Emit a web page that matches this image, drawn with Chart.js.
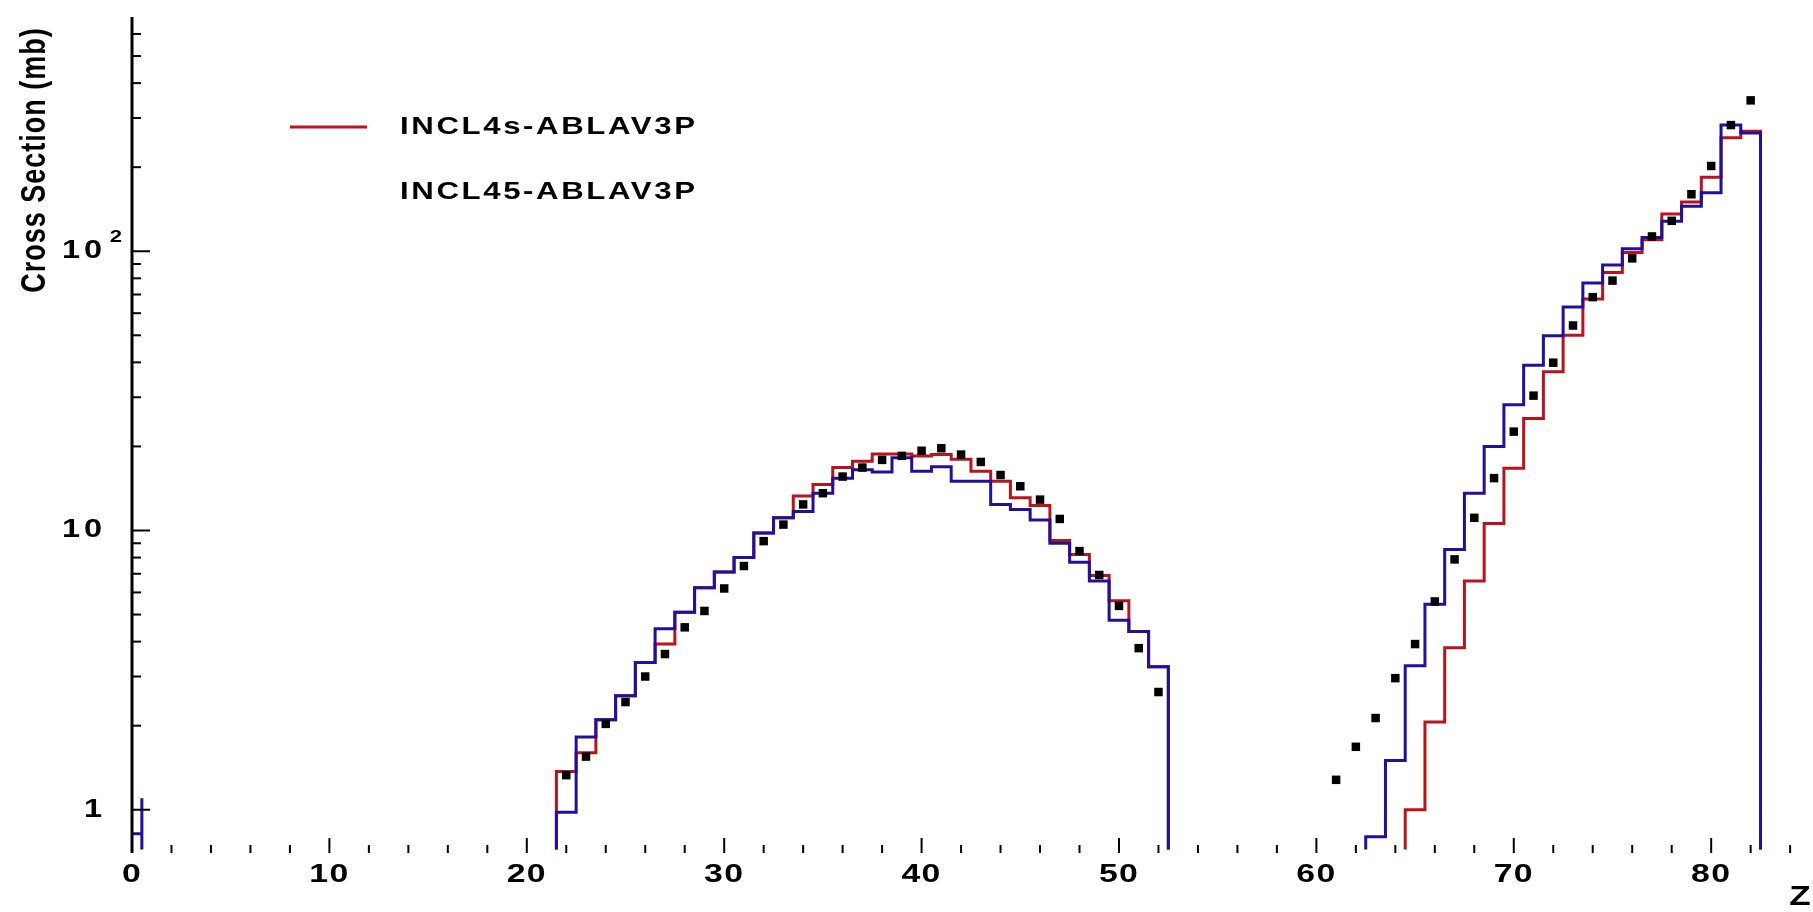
<!DOCTYPE html>
<html>
<head>
<meta charset="utf-8">
<script src="https://cdn.jsdelivr.net/npm/chart.js@4.4.0/dist/chart.umd.min.js"></script>
<style>
  html, body { margin: 0; padding: 0; background: #fff; }
  canvas { display: block; }
</style>
</head>
<body>
<canvas id="chart" width="1813" height="912"></canvas>
<script>
// ---- data ----
const expZ = [22, 23, 24, 25, 26, 27, 28, 29, 30, 31, 32, 33, 34, 35, 36, 37, 38, 39, 40, 41, 42, 43, 44, 45, 46, 47, 48, 49, 50, 51, 52,
              61, 62, 63, 64, 65, 66, 67, 68, 69, 70, 71, 72, 73, 74, 75, 76, 77, 78, 79, 80, 81, 82];
const expVal = [1.33, 1.55, 2.03, 2.43, 3.0, 3.61, 4.5, 5.15, 6.2, 7.46, 9.16, 10.5, 12.4, 13.6, 15.6, 16.8, 17.9, 18.5, 19.3, 19.7, 18.7, 17.6, 15.8, 14.4, 12.9, 11.0, 8.44, 6.93, 5.37, 3.79, 2.64,
                1.28, 1.68, 2.13, 2.96, 3.92, 5.57, 7.88, 11.1, 15.4, 22.6, 30.4, 39.9, 54.2, 68.5, 78.5, 94.3, 113, 128.5, 160, 202, 283, 347];

// INCL4s-ABLAV3P (red) histogram, two pieces
const redZ1 = [22, 23, 24, 25, 26, 27, 28, 29, 30, 31, 32, 33, 34, 35, 36, 37, 38, 39, 40, 41, 42, 43, 44, 45, 46, 47, 48, 49, 50, 51, 52];
const redVal1 = [1.37, 1.6, 2.1, 2.56, 3.37, 3.92, 5.1, 6.24, 7.1, 8.0, 9.8, 11.1, 13.3, 14.6, 16.8, 17.7, 18.8, 18.8, 18.5, 18.7, 18.0, 16.3, 15.0, 13.1, 12.3, 9.2, 8.2, 6.9, 5.6, 4.35, 3.25];
const redZ2 = [65, 66, 67, 68, 69, 70, 71, 72, 73, 74, 75, 76, 77, 78, 79, 80, 81, 82];
const redVal2 = [1.0, 2.06, 3.8, 6.6, 10.6, 16.7, 25.2, 37, 50, 67.5, 84, 99, 110, 136, 150, 184, 255, 269];

// INCL45-ABLAV3P (blue) histogram, three pieces
const blueZ0 = [0];
const blueVal0 = [0.82];
const blueSpikeZ = [0.5];
const blueSpikeVal = [1.1];
const blueZ1 = [22, 23, 24, 25, 26, 27, 28, 29, 30, 31, 32, 33, 34, 35, 36, 37, 38, 39, 40, 41, 42, 43, 44, 45, 46, 47, 48, 49, 50, 51, 52];
const blueVal1 = [0.98, 1.82, 2.1, 2.56, 3.37, 4.45, 5.1, 6.24, 7.1, 8.0, 9.8, 11.1, 11.7, 13.6, 15.4, 16.5, 16.2, 18.2, 16.3, 16.9, 15.0, 15.0, 12.4, 11.9, 10.9, 9.0, 7.7, 6.6, 4.77, 4.35, 3.25];
const blueZ2 = [63, 64, 65, 66, 67, 68, 69, 70, 71, 72, 73, 74, 75, 76, 77, 78, 79, 80, 81, 82];
const blueVal2 = [0.8, 1.5, 3.28, 5.44, 8.55, 13.6, 20, 28.2, 39.1, 49.8, 63.1, 77, 89.3, 102, 112, 128, 145, 162, 283, 265];

const xTickLabels = ["0", "10", "20", "30", "40", "50", "60", "70", "80"];
const legendLabels = ["INCL4s-ABLAV3P", "INCL45-ABLAV3P"];

const YMIN = 0.72, YMAX = 690;
const XMIN = 0, XMAX = 84.5;
const RED = "#b8141e";
const BLUE = "#22109c";

// histogram outline: each bin is a flat step from z-0.5 to z+0.5, pieces separated by gaps
function histPoints(pieces) {
  const pts = [];
  pieces.forEach(([zs, vs]) => {
    pts.push({ x: zs[0] - 0.5, y: YMIN });
    zs.forEach((z, i) => {
      pts.push({ x: z - 0.5, y: vs[i] });
      pts.push({ x: z + 0.5, y: vs[i] });
    });
    pts.push({ x: zs[zs.length - 1] + 0.5, y: YMIN });
    pts.push({ x: zs[zs.length - 1] + 0.5, y: null });
  });
  return pts;
}

const spikePts = [];
blueSpikeZ.forEach((z, i) => {
  spikePts.push({ x: z, y: YMIN }, { x: z, y: blueSpikeVal[i] });
});

// text helper: the reference fonts are stretched sideways
const SX = 1.3;
function drawText(ctx, s, x, y, size, align, ls, rot) {
  ctx.save();
  ctx.translate(x, y);
  if (rot) {
    ctx.rotate(-Math.PI / 2);
    ctx.scale(1, SX);
  } else {
    ctx.scale(SX, 1);
  }
  ctx.font = `bold ${size}px "Liberation Sans", Arial, sans-serif`;
  ctx.letterSpacing = (ls || 0) + "px";
  ctx.textAlign = align;
  ctx.textBaseline = "middle";
  ctx.fillStyle = "#000";
  ctx.fillText(s, 0, 0);
  ctx.restore();
}

const axesPlugin = {
  id: "rootAxes",
  afterDraw(chart) {
    const ctx = chart.ctx;
    const a = chart.chartArea;
    const xs = chart.scales.x, ys = chart.scales.y;
    ctx.save();
    ctx.strokeStyle = "#000";
    ctx.lineCap = "butt";

    // y axis line
    ctx.lineWidth = 3;
    ctx.beginPath();
    ctx.moveTo(a.left, a.top);
    ctx.lineTo(a.left, a.bottom);
    ctx.stroke();

    // y ticks (inside)
    ctx.lineWidth = 2;
    [1, 10, 100].forEach((v) => {
      const y = ys.getPixelForValue(v);
      ctx.beginPath();
      ctx.moveTo(a.left, y);
      ctx.lineTo(a.left + 18, y);
      ctx.stroke();
    });
    [2, 3, 4, 5, 6, 7, 8, 9, 20, 30, 40, 50, 60, 70, 80, 90, 200, 300, 400, 500, 600].forEach((v) => {
      const y = ys.getPixelForValue(v);
      ctx.beginPath();
      ctx.moveTo(a.left, y);
      ctx.lineTo(a.left + 9, y);
      ctx.stroke();
    });

    // x ticks (inside, no axis line)
    for (let z = 0; z <= 84; z += 2) {
      const x = xs.getPixelForValue(z);
      const len = z % 10 === 0 ? 15 : 8;
      ctx.beginPath();
      ctx.moveTo(x, a.bottom);
      ctx.lineTo(x, a.bottom - len);
      ctx.stroke();
    }

    // y labels
    const lx = a.left - 26;
    drawText(ctx, "1", lx, ys.getPixelForValue(1), 25, "right", 3);
    drawText(ctx, "10", lx, ys.getPixelForValue(10), 25, "right", 3);
    drawText(ctx, "10", lx, ys.getPixelForValue(100), 25, "right", 3);
    drawText(ctx, "2", lx + 16, ys.getPixelForValue(100) - 14, 17, "right", 0);

    // x labels
    xTickLabels.forEach((t) => {
      drawText(ctx, t, xs.getPixelForValue(Number(t)), a.bottom + 22, 26, "center", 1);
    });

    // axis titles
    drawText(ctx, "Z", 1800, 898, 27, "center", 0);
    drawText(ctx, "Cross Section (mb)", 35, 160, 27, "center", 1, true);

    // legend
    ctx.strokeStyle = RED;
    ctx.lineWidth = 3;
    ctx.beginPath();
    ctx.moveTo(290, 127);
    ctx.lineTo(367, 127);
    ctx.stroke();
    drawText(ctx, legendLabels[0], 400, 127, 24, "left", 2);
    drawText(ctx, legendLabels[1], 400, 192, 24, "left", 2);

    ctx.restore();
  },
};

new Chart(document.getElementById("chart"), {
  type: "scatter",
  data: {
    datasets: [
      {
        label: "data",
        data: expZ.map((z, i) => ({ x: z, y: expVal[i] })),
        showLine: false,
        pointStyle: "rect",
        pointRadius: 6,
        pointBackgroundColor: "#000",
        pointBorderColor: "#000",
        pointBorderWidth: 0,
        order: 0,
      },
      {
        label: legendLabels[1],
        data: histPoints([[blueZ0, blueVal0], [blueZ1, blueVal1], [blueZ2, blueVal2]]).concat(spikePts),
        showLine: true,
        spanGaps: false,
        borderColor: BLUE,
        borderWidth: 3,
        pointRadius: 0,
        tension: 0,
        order: 1,
      },
      {
        label: legendLabels[0],
        data: histPoints([[redZ1, redVal1], [redZ2, redVal2]]),
        showLine: true,
        spanGaps: false,
        borderColor: RED,
        borderWidth: 3,
        pointRadius: 0,
        tension: 0,
        order: 2,
      },
    ],
  },
  options: {
    responsive: false,
    animation: false,
    devicePixelRatio: 1,
    layout: { padding: { left: 132, right: 13, top: 17, bottom: 59 } },
    scales: {
      x: { type: "linear", min: XMIN, max: XMAX, display: false },
      y: { type: "logarithmic", min: YMIN, max: YMAX, display: false },
    },
    plugins: {
      legend: { display: false },
      tooltip: { enabled: false },
    },
  },
  plugins: [axesPlugin],
});
</script>
</body>
</html>
